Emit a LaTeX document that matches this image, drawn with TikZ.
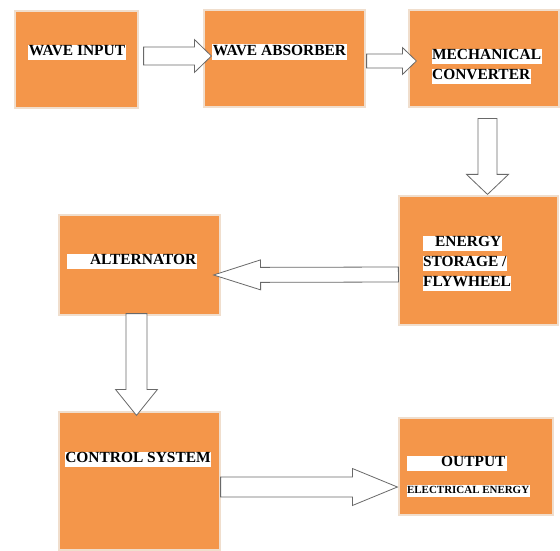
\documentclass[tikz,border=0pt]{standalone}
\usepackage{fontspec}
\setmainfont{Liberation Serif}
\usetikzlibrary{calc,shadows}
\definecolor{boxorange}{RGB}{244,150,74}
\definecolor{boxedge}{RGB}{240,222,205}
\definecolor{arrline}{RGB}{105,105,105}
\setlength{\fboxsep}{0.5bp}
\newcommand{\hl}[1]{\colorbox{white}{\rule[-4bp]{0pt}{13.5bp}#1}}
\newcommand{\hlsmall}[1]{\colorbox{white}{\rule[-3bp]{0pt}{11bp}#1}}
% hollow block arrow: start, tip, half shaft, half head, head length
\newcommand{\blockarrow}[5]{%
  \coordinate (ba-s) at ($#1$);
  \coordinate (ba-t) at ($#2$);
  \coordinate (ba-c) at ($(ba-t)!#5bp!(ba-s)$);
  \draw[blockarr] ($(ba-s)!#3bp!90:(ba-t)$) -- ($(ba-c)!#3bp!90:(ba-t)$) -- ($(ba-c)!#4bp!90:(ba-t)$) -- (ba-t)
    -- ($(ba-c)!#4bp!-90:(ba-t)$) -- ($(ba-c)!#3bp!-90:(ba-t)$) -- ($(ba-s)!#3bp!-90:(ba-t)$) -- cycle;
}
\tikzset{
  block/.style={draw=boxedge, line width=1.2bp, fill=boxorange, inner sep=0pt,
    drop shadow={shadow xshift=1.2bp, shadow yshift=-1.2bp, fill=black!20, opacity=0.6}},
  blocktext/.style={inner sep=0pt, font=\fontsize{15.5}{20}\selectfont\bfseries, align=left},
  blockarr/.style={draw=arrline, line width=0.8bp, fill=white, line join=miter}
}
\begin{document}
\begin{tikzpicture}[x=1bp, y=-1bp]
  \path[fill=white] (0,0) rectangle (560,550);
  % first row
  \node[block, minimum width=123bp, minimum height=97bp] (input) at (76.5,59.5) {};
  \node[block, minimum width=161bp, minimum height=97bp] (absorber) at (284.5,58.5) {};
  \node[block, minimum width=150bp, minimum height=97bp] (converter) at (484,58.5) {};
  % middle row
  \node[block, minimum width=159bp, minimum height=129bp] (storage) at (478.5,260.5) {};
  \node[block, minimum width=161bp, minimum height=100bp] (alternator) at (139.5,265) {};
  % last row
  \node[block, minimum width=161bp, minimum height=138bp] (control) at (139.5,481) {};
  \node[block, minimum width=154bp, minimum height=97bp] (output) at (476,466.5) {};

  % arrows
  \blockarrow{(input.east)+(5,-3.5)}{(absorber.west)+(8,-2.5)}{9}{16.5}{17}
  \blockarrow{(absorber.east)+(1,2.5)}{(converter.west)+(8,2.5)}{7}{13.5}{14}
  \blockarrow{(converter.south)+(3.5,11)}{(storage.north)+(9,-1)}{9.5}{21}{20}
  \blockarrow{(storage.west)+(0,14)}{(alternator.east)+(-7,10)}{7.5}{15}{47}
  \blockarrow{(alternator.south)+(-3,-2)}{(control.north)+(-3,4)}{10.5}{21}{26}
  \blockarrow{(control.east)+(0,6)}{(output.west)+(-1,20.5)}{10}{18.5}{45}

  % labels
  \node[blocktext] (inputtxt) at ($(input.north)+(0.5,42)$) {\hl{WAVE INPUT}};
  \node[blocktext] (absorbertxt) at ($(absorber.north)+(-5,42.5)$) {\hl{WAVE ABSORBER}};
  \node[blocktext, anchor=north west] (convertertxt) at ($(converter.north west)+(23,39.5)$)
    {\hl{MECHANICAL}\\\hl{CONVERTER}};
  \node[blocktext, anchor=north west] (storagetxt) at ($(storage.north west)+(24,40)$)
    {\hl{\hspace*{12bp}ENERGY}\\\hl{STORAGE /}\\\hl{FLYWHEEL}};
  \node[blocktext, anchor=north west] (alternatortxt) at ($(alternator.north west)+(8,39)$)
    {\hl{\hspace*{23bp}ALTERNATOR}};
  \node[blocktext] (controltxt) at ($(control.north)+(-1.5,48)$) {\hl{CONTROL SYSTEM}};
  \node[blocktext, anchor=north west] (outputtxt) at ($(output.north west)+(8,38)$)
    {\hl{\hspace*{34bp}OUTPUT\hspace*{1bp}}\\[7bp]{\fontsize{11}{12}\selectfont\hlsmall{ELECTRICAL ENERGY}}};
\end{tikzpicture}
\end{document}
